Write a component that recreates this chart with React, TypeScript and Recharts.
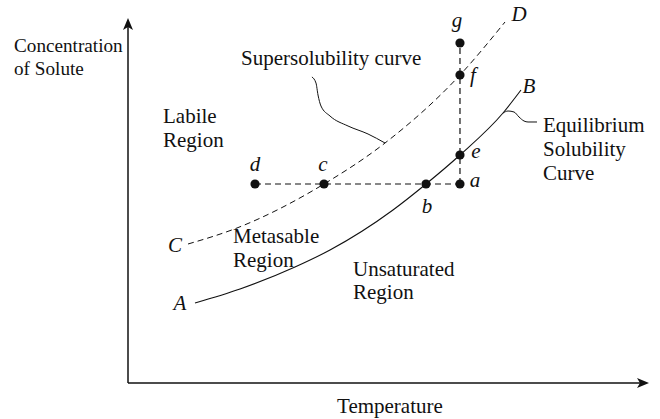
import React from 'react';
import { ComposedChart, Line, Scatter, XAxis, YAxis, ReferenceDot } from 'recharts';

// Equilibrium solubility curve A-B (temperature, concentration) in relative units 0-100
const equilibriumCurve = [
  { x: 12.86, y: 21.92 },
  { x: 21.5, y: 25.75 },
  { x: 32.05, y: 31.78 },
  { x: 38.77, y: 36.44 },
  { x: 50.86, y: 47.4 },
  { x: 57.2, y: 54.52 },
  { x: 63.72, y: 62.47 },
  { x: 71.98, y: 73.97 },
  { x: 75.43, y: 80.27 },
];

// Supersolubility curve C-D
const supersolubilityCurve = [
  { x: 11.52, y: 38.08 },
  { x: 20.92, y: 42.47 },
  { x: 37.62, y: 54.52 },
  { x: 49.33, y: 65.75 },
  { x: 63.72, y: 84.38 },
  { x: 72.36, y: 98.9 },
];

// Path d -> a (constant concentration) and a -> g (constant temperature)
const horizontalPath = [
  { x: 24.38, y: 54.52 },
  { x: 63.72, y: 54.52 },
];
const verticalPath = [
  { x: 63.72, y: 54.52 },
  { x: 63.72, y: 93.15 },
];

// State points
const statePoints = [
  { x: 24.38, y: 54.52, name: 'd' },
  { x: 37.62, y: 54.52, name: 'c' },
  { x: 57.2, y: 54.52, name: 'b' },
  { x: 63.72, y: 54.52, name: 'a' },
  { x: 63.72, y: 62.47, name: 'e' },
  { x: 63.72, y: 84.38, name: 'f' },
  { x: 63.72, y: 93.15, name: 'g' },
];

// Leader lines for annotations
const superLeader = [
  { x: 35.3, y: 83.84 },
  { x: 36.08, y: 82.2 },
  { x: 36.47, y: 78.9 },
  { x: 37.04, y: 75.89 },
  { x: 38.77, y: 73.15 },
  { x: 42.23, y: 70.41 },
  { x: 46.07, y: 68.22 },
  { x: 49.33, y: 65.75 },
];
const equilibriumLeader = [
  { x: 71.98, y: 73.97 },
  { x: 72.94, y: 74.52 },
  { x: 74.09, y: 74.25 },
  { x: 75.05, y: 72.88 },
  { x: 76.01, y: 71.78 },
  { x: 76.78, y: 71.51 },
  { x: 78.5, y: 71.51 },
];

// Axes (drawn as series so they carry arrowheads)
const xAxisLine = [
  { x: 0, y: 0 },
  { x: 99, y: 0 },
];
const yAxisLine = [
  { x: 0, y: 0 },
  { x: 0, y: 98.5 },
];
const arrowTips = [
  { x: 100, y: 0, dir: 'right' },
  { x: 0, y: 100, dir: 'up' },
];

// Text annotations (anchor in data units)
const axisTitles = [
  { x: -21.88, y: 90.68, text: 'Concentration' },
  { x: -21.88, y: 84.38, text: 'of Solute' },
];
const wordLabels = [
  { x: 40.12, y: -8.22, text: 'Temperature' },
  { x: 21.69, y: 87.12, text: 'Supersolubility curve' },
  { x: 6.72, y: 71.23, text: 'Labile' },
  { x: 6.72, y: 64.66, text: 'Region' },
  { x: 20.15, y: 38.36, text: 'Metasable' },
  { x: 20.15, y: 31.78, text: 'Region' },
  { x: 43.19, y: 29.32, text: 'Unsaturated' },
  { x: 43.19, y: 23.01, text: 'Region' },
  { x: 79.65, y: 68.77, text: 'Equilibrium' },
  { x: 79.65, y: 62.19, text: 'Solubility' },
  { x: 79.65, y: 55.62, text: 'Curve' },
];
const letterLabels = [
  { x: 63.15, y: 97.53, text: 'g' },
  { x: 75.05, y: 99.18, text: 'D' },
  { x: 66.22, y: 82.47, text: 'f' },
  { x: 76.97, y: 79.45, text: 'B' },
  { x: 66.79, y: 61.64, text: 'e' },
  { x: 66.6, y: 53.7, text: 'a' },
  { x: 57.39, y: 46.58, text: 'b' },
  { x: 37.43, y: 58.08, text: 'c' },
  { x: 24.38, y: 58.08, text: 'd' },
  { x: 9.02, y: 35.89, text: 'C' },
  { x: 9.98, y: 20.0, text: 'A' },
];

const FONT = '"Liberation Serif", "Times New Roman", serif';
const INK = '#111';

const Dot = (p: any) => <circle cx={p.cx} cy={p.cy} r={4.6} fill={INK} />;

const Arrow = (p: any) => {
  const { cx, cy } = p;
  const dir = p.payload?.dir ?? p.dir;
  const d =
    dir === 'right'
      ? `M${cx},${cy} L${cx - 12},${cy - 5} L${cx - 9},${cy} L${cx - 12},${cy + 5} Z`
      : `M${cx},${cy} L${cx - 5},${cy + 12} L${cx},${cy + 9} L${cx + 5},${cy + 12} Z`;
  return <path d={d} fill={INK} />;
};

const plainLine = {
  dataKey: 'y',
  stroke: INK,
  dot: false,
  isAnimationActive: false,
  activeDot: false,
} as const;

export default function App() {
  return (
    <div style={{ position: 'absolute', left: 0, top: 0, background: '#fff' }}>
      <ComposedChart
        width={660}
        height={419}
        margin={{ top: 18, right: 11, bottom: 36, left: 128 }}
      >
        <XAxis type="number" dataKey="x" domain={[0, 100]} height={0} tick={false} tickLine={false} axisLine={false} />
        <YAxis type="number" dataKey="y" domain={[0, 100]} width={0} tick={false} tickLine={false} axisLine={false} />
        <Line {...plainLine} data={xAxisLine} type="linear" strokeWidth={1.5} />
        <Line {...plainLine} data={yAxisLine} type="linear" strokeWidth={1.5} />
        <Line {...plainLine} data={supersolubilityCurve} type="monotone" strokeWidth={1} strokeDasharray="6 4" />
        <Line {...plainLine} data={equilibriumCurve} type="monotone" strokeWidth={1.1} />
        <Line {...plainLine} data={horizontalPath} type="linear" strokeWidth={1.2} strokeDasharray="6 4" />
        <Line {...plainLine} data={verticalPath} type="linear" strokeWidth={1.2} strokeDasharray="6 4" />
        <Line {...plainLine} data={superLeader} type="monotone" strokeWidth={1} />
        <Line {...plainLine} data={equilibriumLeader} type="monotone" strokeWidth={1} />
        <Scatter data={statePoints} dataKey="y" shape={Dot} isAnimationActive={false} />
        <Scatter data={arrowTips} dataKey="y" shape={Arrow} isAnimationActive={false} />
        {axisTitles.map((l, i) => (
          <ReferenceDot
            key={'t' + i}
            x={l.x}
            y={l.y}
            r={0}
            ifOverflow="visible"
            shape={(p: any) => (
              <text x={p.cx} y={p.cy} fontFamily={FONT} fontSize={19.2} fill={INK} textAnchor="start">
                {l.text}
              </text>
            )}
          />
        ))}
        {wordLabels.map((l, i) => (
          <ReferenceDot
            key={'w' + i}
            x={l.x}
            y={l.y}
            r={0}
            ifOverflow="visible"
            shape={(p: any) => (
              <text x={p.cx} y={p.cy} fontFamily={FONT} fontSize={21} fill={INK} textAnchor="start">
                {l.text}
              </text>
            )}
          />
        ))}
        {letterLabels.map((l, i) => (
          <ReferenceDot
            key={'l' + i}
            x={l.x}
            y={l.y}
            r={0}
            ifOverflow="visible"
            shape={(p: any) => (
              <text
                x={p.cx}
                y={p.cy}
                fontFamily={FONT}
                fontSize={21}
                fontStyle="italic"
                fill={INK}
                textAnchor="middle"
              >
                {l.text}
              </text>
            )}
          />
        ))}
      </ComposedChart>
    </div>
  );
}
